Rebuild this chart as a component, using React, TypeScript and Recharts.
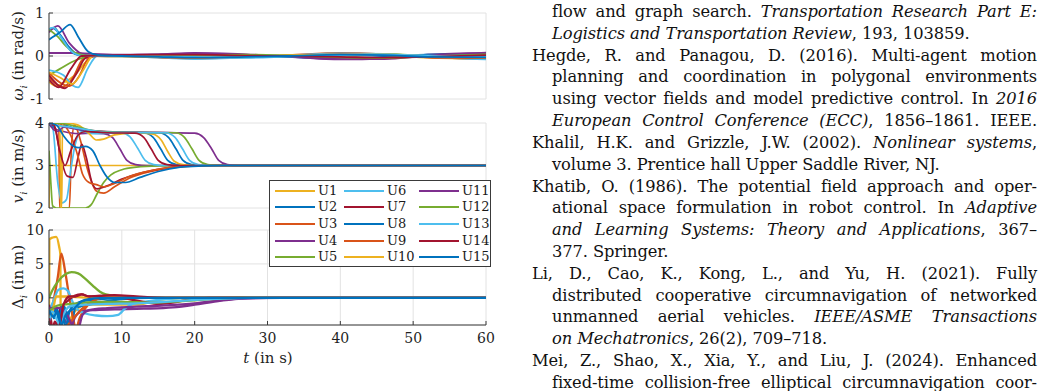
import React from 'react';
import { LineChart, Line, XAxis, YAxis, CartesianGrid, Legend } from 'recharts';

type P = [number, number][];

const NAMES = ['U1', 'U2', 'U3', 'U4', 'U5', 'U6', 'U7', 'U8', 'U9', 'U10', 'U11', 'U12', 'U13', 'U14', 'U15'];
const COLORS = ['#EDB120', '#0072BD', '#D95319', '#7E2F8E', '#77AC30', '#4DBEEE', '#A2142F', '#0072BD', '#D95319', '#EDB120', '#7E2F8E', '#77AC30', '#4DBEEE', '#A2142F', '#0072BD'];
const T_TICKS = [0, 10, 20, 30, 40, 50, 60];
const W_TICKS = [-1, 0, 1];
const V_TICKS = [2, 3, 4];
const D_TICKS = [0, 5, 10];

// ---- omega_i (rad/s) ----
const W_U1: P = [[0, -0.6], [1, -0.7], [2, -0.62], [3.5, -0.45], [5, -0.15], [6.2, 0], [8, 0.02], [14, 0.01], [20, -0.05], [27, -0.03], [33, 0.01], [40, 0.05], [46, 0.03], [52, -0.04], [60, -0.07]];
const W_U2: P = [[0, 0.62], [0.5, 0.65], [1.5, 0.5], [2.8, 0.2], [4, 0.03], [6, 0], [10, 0.01], [15, 0.03], [20, 0.05], [27, 0.02], [33, -0.02], [40, -0.06], [46, -0.04], [52, 0.03], [60, 0.05]];
const W_U3: P = [[0, -0.5], [1.8, -0.72], [3.3, -0.5], [4.5, -0.1], [5.5, 0], [8, 0.01], [14, -0.02], [20, -0.06], [27, -0.02], [33, 0.02], [40, 0.07], [46, 0.04], [52, -0.03], [60, -0.06]];
const W_U4: P = [[0, 0.07], [3, 0.07], [6, 0.05], [10, 0.03], [15, 0.03], [20, 0.06], [27, 0.03], [33, -0.02], [40, -0.08], [46, -0.06], [52, 0.03], [60, 0.07]];
const W_U5: P = [[0, -0.45], [1.5, -0.3], [3, -0.15], [4.5, -0.05], [6, 0], [10, 0.01], [15, -0.01], [20, -0.04], [27, -0.03], [33, 0], [40, 0.04], [46, 0.05], [52, 0], [60, -0.05]];
const W_U6: P = [[0, -0.33], [2, -0.45], [3.2, -0.68], [4, -0.73], [5.3, -0.3], [6.6, 0], [9, 0.01], [14, -0.03], [20, -0.07], [27, -0.04], [33, 0.01], [40, 0.06], [46, 0.05], [52, -0.02], [60, -0.08]];
const W_U7: P = [[0, -0.45], [2.2, -0.75], [3.8, -0.4], [5, -0.05], [6.5, 0], [10, 0.02], [15, 0.02], [20, 0.04], [27, 0.02], [33, -0.01], [40, -0.05], [46, -0.03], [52, 0.02], [60, 0.05]];
const W_U8: P = [[0, 0.6], [0.7, 0.66], [1.8, 0.4], [3.5, 0.05], [5, 0], [10, 0.01], [15, 0.02], [20, 0.03], [27, 0.01], [33, -0.02], [40, -0.04], [46, -0.02], [52, 0.03], [60, 0.04]];
const W_U9: P = [[0, -0.4], [2.8, -0.7], [4.2, -0.45], [5.2, -0.1], [6, 0], [10, -0.01], [15, -0.03], [20, -0.05], [27, -0.02], [33, 0.01], [40, 0.04], [46, 0.02], [52, -0.03], [60, -0.05]];
const W_U10: P = [[0, -0.38], [1.5, -0.5], [3.2, -0.65], [4.8, -0.3], [6, 0], [10, 0], [15, -0.02], [20, -0.03], [27, -0.01], [33, 0.02], [40, 0.03], [46, 0.04], [52, 0], [60, -0.03]];
const W_U11: P = [[0, 0.55], [1.2, 0.7], [2.8, 0.3], [4.5, 0.05], [6, 0], [10, 0.02], [15, 0.04], [20, 0.07], [27, 0.04], [33, -0.01], [40, -0.07], [46, -0.07], [52, 0.01], [60, 0.08]];
const W_U12: P = [[0, 0.62], [1.2, 0.45], [2.4, 0.22], [4, 0.05], [6, 0], [10, -0.01], [15, 0], [20, 0.02], [27, 0.03], [33, 0.01], [40, -0.03], [46, -0.05], [52, -0.01], [60, 0.04]];
const W_U13: P = [[0, 0.63], [0.6, 0.66], [1.6, 0.45], [3, 0.12], [4.5, 0.01], [8, 0], [15, -0.01], [20, -0.02], [27, -0.04], [33, -0.01], [40, 0.02], [46, 0.03], [52, 0.01], [60, -0.02]];
const W_U14: P = [[0, -0.55], [1.3, -0.73], [3, -0.3], [4.5, 0], [8, 0.01], [14, 0.03], [20, 0.03], [27, 0.01], [33, 0], [40, -0.02], [46, -0.04], [52, -0.02], [60, 0.02]];
const W_U15: P = [[0, 0.38], [1.5, 0.55], [2.9, 0.73], [4, 0.45], [5.4, 0.1], [6.8, 0.02], [10, 0], [15, -0.02], [20, -0.04], [27, -0.02], [33, 0], [40, 0.03], [46, 0.02], [52, -0.02], [60, -0.03]];

// ---- v_i (m/s) ----
const V_U1: P = [[0, 2], [0.1, 3], [60, 3]];
const V_U2: P = [[0, 4], [0.4, 3.9], [0.8, 4], [2, 3.95], [4, 3.85], [7, 3.78], [13, 3.77], [14.3, 3.66], [15.3, 3.4], [16.3, 3.12], [17.5, 3.02], [19.5, 3], [60, 3]];
const V_U3: P = [[0, 4], [1.35, 4], [1.45, 2], [2.8, 2], [3.1, 3.5], [3.5, 3.95], [4.3, 3.6], [5.3, 2.9], [6.5, 2.4], [7.5, 2.35], [9, 2.5], [11, 2.7], [14, 2.86], [17, 2.95], [20, 2.99], [23, 3], [60, 3]];
const V_U4: P = [[0, 4], [1, 3.85], [2, 3.8], [4, 3.75], [6, 3.76], [7.5, 3.75], [8.7, 3.66], [9.7, 3.4], [10.7, 3.12], [11.9, 3.02], [13.5, 3], [60, 3]];
const V_U5: P = [[0, 3.35], [0.25, 2.6], [0.5, 2.05], [1, 2], [5, 2], [5.8, 2.08], [6.5, 2.3], [7.5, 2.6], [8.5, 2.78], [10, 2.9], [12, 2.96], [15, 2.99], [20, 3], [60, 3]];
const V_U6: P = [[0, 4], [0.5, 3.9], [1.2, 2.6], [1.8, 2.12], [2.4, 2.2], [3, 2.9], [3.6, 3.5], [4.5, 3.8], [6, 3.75], [10, 3.77], [11.1, 3.68], [12.2, 3.4], [13.2, 3.12], [14.4, 3.02], [16, 3], [60, 3]];
const V_U7: P = [[0, 4], [0.8, 3.9], [1.6, 3.2], [2.5, 2.75], [3.3, 2.72], [4, 3.2], [4.5, 3.5], [5.1, 3.2], [5.9, 2.6], [6.6, 2.45], [8, 2.52], [10, 2.68], [13, 2.84], [16, 2.94], [19, 2.99], [22, 3], [60, 3]];
const V_U8: P = [[0, 4], [0.5, 3.9], [1, 4], [3, 3.9], [5, 3.82], [8, 3.78], [15.1, 3.77], [16.4, 3.66], [17.4, 3.4], [18.4, 3.12], [19.6, 3.02], [21.5, 3], [60, 3]];
const V_U9: P = [[0, 4], [2, 3.95], [3, 3.7], [4, 3.2], [4.6, 2.8], [5.5, 2.6], [6.5, 2.55], [7.5, 2.5], [9, 2.58], [11, 2.74], [14, 2.88], [17, 2.96], [20, 2.99], [23, 3], [60, 3]];
const V_U10: P = [[0, 4], [1.5, 4], [1.6, 2], [1.75, 2], [1.85, 4], [2.2, 4], [4, 3.95], [5.5, 3.75], [6.5, 3.6], [7.5, 3.62], [9, 3.72], [12, 3.77], [14.3, 3.74], [15.4, 3.6], [16.3, 3.33], [17.2, 3.1], [18.4, 3.02], [20, 3], [60, 3]];
const V_U11: P = [[0, 4], [0.6, 3.85], [1.2, 3.8], [2, 3.9], [4, 3.85], [8, 3.8], [15, 3.78], [20, 3.76], [21.2, 3.66], [22.3, 3.4], [23.3, 3.12], [24.5, 3.02], [26, 3], [60, 3]];
const V_U12: P = [[0, 4], [1, 4], [3, 3.95], [6, 3.82], [10, 3.78], [17.4, 3.77], [18.6, 3.66], [19.6, 3.4], [20.6, 3.12], [21.8, 3.02], [23.5, 3], [60, 3]];
const V_U13: P = [[0, 4], [1, 3.95], [3, 3.9], [5, 3.85], [8, 3.78], [16, 3.77], [17.3, 3.66], [18.3, 3.4], [19.3, 3.12], [20.5, 3.02], [22.5, 3], [60, 3]];
const V_U14: P = [[0, 4], [0.7, 3.95], [1.4, 3.4], [2.2, 3], [3, 3.35], [4, 3.72], [5, 3.8], [8, 3.77], [11.8, 3.76], [13, 3.66], [14, 3.4], [15, 3.12], [16.2, 3.02], [18, 3], [60, 3]];
const V_U15: P = [[0, 4], [1, 3.95], [2, 3.7], [3, 3.5], [4, 3.42], [5, 3.45], [6, 3.35], [7, 3], [8, 2.72], [9, 2.6], [10.5, 2.6], [12.5, 2.72], [15, 2.86], [18, 2.96], [21, 2.99], [24, 3], [60, 3]];

// ---- Delta_i (m) ----
const D_U1: P = [[0, -4.5], [0.05, 8.6], [0.5, 8.9], [1, 9], [1.4, 7.5], [1.55, 6.5], [1.62, -5], [2.6, -5], [3, -3], [4, -1.5], [5, -1], [8, -1], [12, -1], [14, -0.6], [16, -0.2], [20, 0], [60, 0]];
const D_U2: P = [[0, -2], [0.3, -1.8], [0.7, -3], [1.1, -1.5], [1.5, -4.5], [2.1, -1.3], [2.6, -3.5], [3, -4.5], [3.6, -1.5], [4.5, -1.2], [6, -0.9], [8, -0.5], [10, -0.2], [14, 0], [60, 0]];
const D_U3: P = [[0, -3], [0.5, -1], [1.2, 3], [1.7, 6.5], [2.2, 4], [2.8, 0], [3.3, -3], [3.7, -4.5], [4.2, -3], [5, -1.5], [6, -0.5], [7, 0], [9, 0.1], [12, 0], [60, 0]];
const D_U4: P = [[0, -2.5], [1, -2], [2, -3], [3, -4.5], [3.5, -3], [4.5, -2], [6, -1.8], [9, -1.7], [13, -1.6], [17, -1.4], [20, -1], [23, -0.5], [26, -0.15], [30, 0], [60, 0]];
const D_U5: P = [[0, 0], [0.5, 1.2], [1.3, 2.5], [2.3, 3.5], [3.1, 3.8], [4, 3.6], [5, 2.8], [6, 1.8], [7, 0.9], [7.8, 0.5], [9, 0.3], [12, 0.1], [16, 0], [60, 0]];
const D_U6: P = [[0, -2], [0.6, -0.5], [1.3, 1.2], [2, 1.4], [2.6, 1], [3.2, -0.5], [4, -1.8], [5, -2.3], [6.5, -2.6], [8, -2.7], [9.5, -2.5], [10.5, -1.5], [11.5, -0.9], [13, -0.6], [16, -0.2], [20, 0], [60, 0]];
const D_U7: P = [[0, -1], [0.6, -4.5], [1, -4.5], [1.6, -1.5], [2.5, -0.5], [3.5, 0.3], [4.5, 0.5], [5.5, 0.2], [7, 0.3], [9, 0.2], [11, -0.2], [13, -0.6], [15, -0.9], [17, -0.7], [19, -0.3], [22, 0], [60, 0]];
const D_U8: P = [[0, -2.2], [0.5, -2.5], [1, -1.5], [1.4, -3.5], [1.8, -1.2], [2.3, -4.5], [2.8, -2], [3.5, -1], [5, -0.4], [8, -0.1], [12, 0], [60, 0]];
const D_U9: P = [[0, -4.5], [2, -4.5], [3, -3.5], [4, -2.2], [5, -1.2], [6, -0.5], [7, 0], [8, 0.3], [10, 0.2], [14, 0], [60, 0]];
const D_U10: P = [[0, -3], [0.5, -2], [1, 0.2], [2.5, 0.2], [4, 0.1], [6, 0], [60, 0]];
const D_U11: P = [[0, -1.5], [1.5, -1.5], [2.5, -2.5], [3.5, -4.5], [4, -4.5], [4.6, -2.5], [5.5, -1.8], [8, -1.5], [12, -1.3], [16, -1.1], [20, -0.8], [24, -0.3], [28, -0.05], [32, 0], [60, 0]];
const D_U12: P = [[0, -2], [1, -1.2], [2, -1], [4, -0.8], [7, -0.6], [10, -0.6], [14, -0.7], [18, -0.5], [22, -0.2], [26, 0], [60, 0]];
const D_U13: P = [[0, -4.5], [0.4, -2], [1, -3], [1.6, -4.5], [2.2, -2], [3, -1.2], [5, -1], [8, -0.9], [12, -0.8], [16, -0.6], [20, -0.3], [24, -0.1], [28, 0], [60, 0]];
const D_U14: P = [[0, -3], [0.5, -4.5], [0.8, -3.5], [1.3, -4.5], [2, -1], [2.8, 0.2], [3.6, 0.2], [4.5, 0.5], [5.5, 0.2], [7, 0.3], [9, 0.4], [12, 0.2], [16, 0], [60, 0]];
const D_U15: P = [[0, -1.8], [0.6, -2.8], [1.2, -2], [1.7, -4], [2.3, -2.5], [3.5, -1.5], [4.5, -0.5], [5.5, -0.2], [7, -0.05], [10, 0], [60, 0]];

const OMEGA = [W_U1, W_U2, W_U3, W_U4, W_U5, W_U6, W_U7, W_U8, W_U9, W_U10, W_U11, W_U12, W_U13, W_U14, W_U15];
const SPEED = [V_U1, V_U2, V_U3, V_U4, V_U5, V_U6, V_U7, V_U8, V_U9, V_U10, V_U11, V_U12, V_U13, V_U14, V_U15];
const DELTA = [D_U1, D_U2, D_U3, D_U4, D_U5, D_U6, D_U7, D_U8, D_U9, D_U10, D_U11, D_U12, D_U13, D_U14, D_U15];

const REF_LINES: [string, boolean, boolean][] = [
  ['flow and graph search. _Transportation Research Part E:_', true, true],
  ['_Logistics and Transportation Review_, 193, 103859.', true, false],
  ['Hegde, R. and Panagou, D. (2016).  Multi-agent motion', false, true],
  ['planning and coordination in polygonal environments', true, true],
  ['using vector fields and model predictive control. In _2016_', true, true],
  ['_European Control Conference (ECC)_, 1856–1861. IEEE.', true, true],
  ['Khalil, H.K. and Grizzle, J.W. (2002). _Nonlinear systems_,', false, true],
  ['volume 3. Prentice hall Upper Saddle River, NJ.', true, false],
  ['Khatib, O. (1986). The potential field approach and oper-', false, true],
  ['ational space formulation in robot control. In _Adaptive_', true, true],
  ['_and Learning Systems: Theory and Applications_, 367–', true, true],
  ['377. Springer.', true, false],
  ['Li, D., Cao, K., Kong, L., and Yu, H. (2021).  Fully', false, true],
  ['distributed cooperative circumnavigation of networked', true, true],
  ['unmanned aerial vehicles. _IEEE/ASME Transactions_', true, true],
  ['_on Mechatronics_, 26(2), 709–718.', true, false],
  ['Mei, Z., Shao, X., Xia, Y., and Liu, J. (2024). Enhanced', false, true],
  ['fixed-time collision-free elliptical circumnavigation coor-', true, true],
];

const SERIF = "'DejaVu Serif', 'Liberation Serif', 'Times New Roman', Times, 'Noto Serif', serif";
const AXIS = '#3a3a3a';
const GRID = '#e2e2e2';

const toRows = (p: P) => p.map(([t, v]) => ({ t, v }));

function renderRich(s: string) {
  const parts = s.split('_');
  return parts.map((p, i) => (i % 2 === 1 ? <i key={i}>{p}</i> : <span key={i}>{p}</span>));
}

const LegendBox = () => (
  <div style={{ position: 'relative', width: 222, height: 87, border: `1px solid ${AXIS}`, background: '#fff', boxSizing: 'border-box', fontFamily: SERIF, fontSize: 13, color: '#1a1a1a' }}>
    {NAMES.map((n, i) => {
      const col = Math.floor(i / 5);
      const row = i % 5;
      const lx = [5, 74, 149][col];
      const cy = 9.5 + row * 16.7;
      return (
        <React.Fragment key={n}>
          <div style={{ position: 'absolute', left: lx, top: cy - 1, width: 40, height: 2, background: COLORS[i] }} />
          <div style={{ position: 'absolute', left: lx + 43, top: cy - 9, lineHeight: '18px', whiteSpace: 'nowrap' }}>{n}</div>
        </React.Fragment>
      );
    })}
  </div>
);

type PanelProps = {
  series: P[];
  domain: [number, number];
  yTicks: number[];
  top: number;
  height: number;
  mTop: number;
  mBottom: number;
  showX: boolean;
  sw: number;
  legend?: boolean;
};

function Panel({ series, domain, yTicks, top, height, mTop, mBottom, showX, sw, legend }: PanelProps) {
  const tickStyle = { fill: '#1f1f1f', fontSize: 14, fontFamily: SERIF };
  return (
    <div style={{ position: 'absolute', left: 0, top, width: 500, height }}>
      <LineChart width={500} height={height} margin={{ top: mTop, right: 14, bottom: mBottom, left: 9 }}>
        <CartesianGrid stroke={GRID} strokeWidth={1} />
        <XAxis dataKey="t" type="number" domain={[0, 60]} ticks={T_TICKS} height={showX ? 40 : 0}
          tick={showX ? tickStyle : false} tickSize={-4} tickMargin={12} stroke={AXIS} tickLine={{ stroke: AXIS }} allowDataOverflow />
        <XAxis xAxisId="top" dataKey="t" type="number" orientation="top" domain={[0, 60]} ticks={T_TICKS} height={0}
          tick={false} tickSize={-4} stroke={AXIS} tickLine={{ stroke: AXIS }} allowDataOverflow />
        <YAxis type="number" domain={domain} ticks={yTicks} width={40} tick={tickStyle} tickSize={-4} tickMargin={9}
          stroke={AXIS} tickLine={{ stroke: AXIS }} allowDataOverflow interval={0} />
        <YAxis yAxisId="r" orientation="right" type="number" domain={domain} ticks={yTicks} width={0} tick={false}
          tickSize={-4} stroke={AXIS} tickLine={{ stroke: AXIS }} allowDataOverflow />
        {series.map((s, i) => (
          <Line key={NAMES[i]} name={NAMES[i]} data={toRows(s)} dataKey="v" type="monotone" stroke={COLORS[i]}
            strokeWidth={sw} dot={false} activeDot={false} isAnimationActive={false} />
        ))}
        {legend && (
          <Legend layout="horizontal" verticalAlign="middle" align="center" content={() => <LegendBox />}
            wrapperStyle={{ position: 'absolute', left: 269, top: 180 - top, width: 222, height: 87, margin: 0 }} />
        )}
      </LineChart>
    </div>
  );
}

const yTitle = (cx: number, cy: number, content: React.ReactNode) => (
  <div style={{ position: 'absolute', left: cx, top: cy, transform: 'translate(-50%, -50%) rotate(-90deg)', whiteSpace: 'nowrap', fontFamily: SERIF, fontSize: 15, color: '#1f1f1f', zIndex: 3 }}>
    {content}
  </div>
);

export default function App() {
  return (
    <div style={{ position: 'absolute', left: 0, top: 0, width: 1040, height: 391, overflow: 'hidden', background: '#fff' }}>
      <Panel series={OMEGA} domain={[-1, 1]} yTicks={W_TICKS} top={0} height={110} mTop={13} mBottom={11} showX={false} sw={1.8} />
      <Panel series={SPEED} domain={[2, 4]} yTicks={V_TICKS} top={110} height={112} mTop={13} mBottom={14} showX={false} sw={1.7} />
      <Panel series={DELTA} domain={[-4, 10]} yTicks={D_TICKS} top={215} height={150} mTop={15} mBottom={0} showX={true} sw={2.3} legend />
      {yTitle(19, 56, <span><i>ω<sub style={{ fontSize: 10 }}>i</sub></i> (in rad/s)</span>)}
      {yTitle(19, 166, <span><i>v<sub style={{ fontSize: 10 }}>i</sub></i> (in m/s)</span>)}
      {yTitle(19, 277, <span>Δ<i><sub style={{ fontSize: 10 }}>i</sub></i> (in m)</span>)}
      <div style={{ position: 'absolute', left: 268, top: 358, transform: 'translate(-50%, -50%)', whiteSpace: 'nowrap', fontFamily: SERIF, fontSize: 15, color: '#1f1f1f' }}>
        <i>t</i> (in s)
      </div>
      <div style={{ position: 'absolute', left: 532, top: 1, width: 505, fontFamily: SERIF, fontSize: 16.3, letterSpacing: -0.1, lineHeight: '21.82px', color: '#111' }}>
        {REF_LINES.map(([s, indent, just], i) => (
          <div key={i} style={{ paddingLeft: indent ? 20 : 0, textAlign: just ? 'justify' : 'left', textAlignLast: just ? 'justify' : 'left', whiteSpace: 'nowrap', height: 21.82 }}>
            {renderRich(s)}
          </div>
        ))}
      </div>
    </div>
  );
}
